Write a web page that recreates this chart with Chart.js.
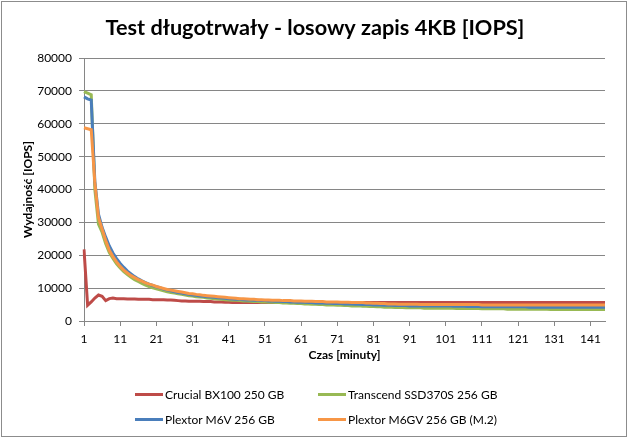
<!DOCTYPE html>
<html>
<head>
<meta charset="utf-8">
<script src="https://cdn.jsdelivr.net/npm/chart.js@4"></script>
<style>
  html, body { margin:0; padding:0; background:#fff; }
  #wrap { position:relative; width:630px; height:440px; }
  #frame { position:absolute; left:1px; top:1px; width:624px; height:434px; border:1px solid #8c8c8c; pointer-events:none; }
  .leg { position:absolute; font:12px Lato, sans-serif; color:#000; white-space:nowrap; line-height:14px; }
  .leg i { display:inline-block; width:28px; height:3px; vertical-align:middle; margin-right:2px; position:relative; top:-1px; }
</style>
</head>
<body>
<div id="wrap">
  <canvas id="chart" width="630" height="440"></canvas>
  <div id="frame"></div>
  <div id="legend"></div>
</div>
<script>
const minutes = Array.from({ length: 145 }, (_, i) => String(i + 1));
const yTicks = [0, 10000, 20000, 30000, 40000, 50000, 60000, 70000, 80000];

const crucial = [
  21800, 4800, 5800, 7000, 7900, 7500, 6200, 6800, 7000, 6800,
  6800, 6800, 6700, 6700, 6700, 6600, 6600, 6600, 6600, 6500,
  6500, 6500, 6500, 6400, 6400, 6300, 6200, 6100, 6100, 6000,
  6000, 6000, 6000, 5900, 5900, 5900, 5800, 5800, 5800, 5700,
  5700, 5600, 5600, 5600, 5600, 5600, 5600, 5600, 5600, 5600,
  5600, 5600, 5600, 5600, 5600, 5600, 5600, 5600, 5600, 5600,
  5600, 5600, 5600, 5600, 5600, 5600, 5600, 5600, 5600, 5600,
  5600, 5600, 5600, 5600, 5600, 5600, 5600, 5600, 5600, 5600,
  5600, 5600, 5600, 5600, 5600, 5600, 5600, 5600, 5600, 5600,
  5600, 5600, 5600, 5600, 5600, 5600, 5600, 5600, 5600, 5600,
  5600, 5600, 5600, 5600, 5600, 5600, 5600, 5600, 5600, 5600,
  5600, 5600, 5600, 5600, 5600, 5600, 5600, 5600, 5600, 5600,
  5600, 5600, 5600, 5600, 5600, 5600, 5600, 5600, 5600, 5600,
  5600, 5600, 5600, 5600, 5600, 5600, 5600, 5600, 5600, 5600,
  5600, 5600, 5600, 5600, 5600
];

const transcend = [
  69800, 69300, 68800, 40000, 29500, 27000, 23500, 20800, 19000, 17400,
  16100, 15000, 14100, 13300, 12600, 12000, 11400, 10900, 10500, 10100,
  9800, 9500, 9200, 8900, 8700, 8500, 8300, 8100, 7900, 7700,
  7600, 7400, 7300, 7200, 7000, 6900, 6800, 6700, 6600, 6500,
  6400, 6300, 6300, 6200, 6100, 6100, 6000, 5900, 5900, 5800,
  5800, 5700, 5700, 5600, 5600, 5500, 5500, 5400, 5400, 5300,
  5300, 5200, 5200, 5100, 5100, 5000, 5000, 4900, 4900, 4900,
  4800, 4800, 4700, 4700, 4600, 4600, 4600, 4500, 4500, 4400,
  4400, 4300, 4300, 4200, 4200, 4200, 4100, 4100, 4100, 4000,
  4000, 4000, 4000, 4000, 3900, 3900, 3900, 3900, 3900, 3900,
  3900, 3900, 3900, 3800, 3800, 3800, 3800, 3800, 3800, 3800,
  3700, 3700, 3700, 3700, 3700, 3700, 3700, 3600, 3600, 3600,
  3600, 3600, 3600, 3600, 3600, 3600, 3600, 3600, 3600, 3500,
  3500, 3500, 3500, 3500, 3500, 3500, 3500, 3500, 3500, 3500,
  3500, 3500, 3500, 3500, 3500
];

const plextorM6V = [
  68200, 67600, 67200, 42500, 32500, 28500, 25500, 22800, 20700, 19000,
  17500, 16300, 15200, 14300, 13500, 12800, 12200, 11700, 11200, 10800,
  10400, 10100, 9700, 9400, 9200, 8900, 8700, 8500, 8300, 8100,
  7900, 7800, 7600, 7500, 7400, 7300, 7200, 7100, 7000, 6900,
  6800, 6700, 6600, 6600, 6500, 6400, 6400, 6300, 6300, 6200,
  6200, 6100, 6100, 6000, 6000, 5900, 5900, 5800, 5800, 5700,
  5700, 5700, 5600, 5600, 5500, 5500, 5500, 5400, 5400, 5300,
  5300, 5300, 5200, 5200, 5200, 5100, 5100, 5000, 5000, 5000,
  4900, 4900, 4900, 4800, 4800, 4800, 4700, 4700, 4700, 4700,
  4600, 4600, 4600, 4600, 4600, 4600, 4600, 4600, 4600, 4600,
  4600, 4600, 4500, 4500, 4500, 4500, 4400, 4400, 4400, 4400,
  4300, 4300, 4300, 4300, 4300, 4300, 4300, 4300, 4300, 4300,
  4300, 4300, 4300, 4200, 4200, 4200, 4200, 4200, 4200, 4200,
  4200, 4200, 4200, 4200, 4200, 4200, 4200, 4200, 4200, 4200,
  4200, 4200, 4200, 4200, 4200
];

const plextorM6GV = [
  58800, 58500, 58200, 42000, 31500, 28000, 24500, 21500, 19600, 18000,
  16600, 15500, 14600, 13800, 13200, 12600, 12100, 11600, 11200, 10900,
  10500, 10200, 9900, 9600, 9400, 9200, 9000, 8800, 8600, 8400,
  8300, 8100, 8000, 7800, 7700, 7600, 7500, 7400, 7300, 7200,
  7100, 7000, 6900, 6800, 6800, 6700, 6600, 6600, 6500, 6500,
  6400, 6400, 6300, 6300, 6300, 6200, 6200, 6200, 6100, 6100,
  6100, 6000, 6000, 6000, 5900, 5900, 5900, 5800, 5800, 5800,
  5800, 5700, 5700, 5700, 5600, 5600, 5600, 5600, 5500, 5500,
  5400, 5400, 5300, 5300, 5200, 5200, 5200, 5100, 5100, 5100,
  5100, 5100, 5100, 5000, 5000, 5000, 5000, 5000, 5000, 5000,
  5000, 5000, 5000, 5000, 5000, 5000, 5000, 5000, 5000, 5000,
  4900, 4900, 4900, 4900, 4900, 4900, 4900, 4900, 4900, 4900,
  4900, 4900, 4900, 4900, 4900, 4900, 4900, 4900, 4900, 4900,
  4900, 4900, 4900, 4900, 4900, 4900, 4900, 4900, 4900, 4900,
  4900, 4900, 4900, 4900, 4900
];

const seriesNames = ['Crucial BX100 250 GB', 'Transcend SSD370S 256 GB', 'Plextor M6V 256 GB', 'Plextor M6GV 256 GB (M.2)'];
const seriesColors = ['#be4b48', '#98b954', '#4a7ebb', '#f79646'];
const seriesData = [crucial, transcend, plextorM6V, plextorM6GV];

const axisGrey = '#868686';
const tickFont = { family: 'Lato', size: 12 };
const boldFont = { family: 'Lato', size: 12, weight: 'bold' };

// html legend, two columns like the excel one
const legendPos = [[135, 388], [318, 388], [135, 413], [318, 413]];
const legendBox = document.getElementById('legend');
seriesNames.forEach((name, i) => {
  const d = document.createElement('div');
  d.className = 'leg';
  d.style.left = legendPos[i][0] + 'px';
  d.style.top = legendPos[i][1] + 'px';
  d.innerHTML = '<i style="background:' + seriesColors[i] + '"></i>' + name;
  legendBox.appendChild(d);
});

new Chart(document.getElementById('chart'), {
  type: 'line',
  data: {
    labels: minutes,
    datasets: seriesData.map((data, i) => ({
      label: seriesNames[i],
      data,
      borderColor: seriesColors[i],
      backgroundColor: seriesColors[i],
      borderWidth: 3,
      pointRadius: 0,
      tension: 0,
      order: 4 - i   // later series drawn on top, like excel
    }))
  },
  options: {
    responsive: false,
    animation: false,
    // equal side padding so the title centres on the whole picture
    layout: { padding: { left: 25, right: 25, top: 0, bottom: 78 } },
    plugins: {
      legend: { display: false },
      tooltip: { enabled: false },
      title: {
        display: true,
        text: 'Test długotrwały - losowy zapis 4KB [IOPS]',
        color: '#000',
        font: { family: 'Lato', size: 21.7, weight: 'bold' },
        padding: { top: 15, bottom: 17 }
      }
    },
    scales: {
      x: {
        ticks: {
          autoSkip: false, maxRotation: 0, padding: 6, color: '#000', font: tickFont,
          callback: (v, i) => (i % 10 === 0 ? minutes[i] : '')
        },
        grid: {
          drawOnChartArea: false, tickLength: 5,
          color: c => (c.index % 10 === 0 ? axisGrey : 'rgba(0,0,0,0)')
        },
        border: { color: axisGrey },
        title: { display: true, text: 'Czas [minuty]', color: '#000', font: boldFont, padding: 0 },
        afterFit: s => { s.height = 41; }
      },
      y: {
        min: 0, max: 80000,
        afterBuildTicks: s => { s.ticks = yTicks.map(v => ({ value: v })); },
        ticks: { padding: 7, color: '#000', font: tickFont, callback: v => String(v) },
        grid: { color: axisGrey, tickLength: 5 },
        border: { color: axisGrey },
        title: { display: true, text: 'Wydajność [IOPS]', color: '#000', font: boldFont, padding: { top: -4, bottom: 0 } },
        afterFit: s => { s.width = 59; }
      }
    }
  }
});
</script>
</body>
</html>
